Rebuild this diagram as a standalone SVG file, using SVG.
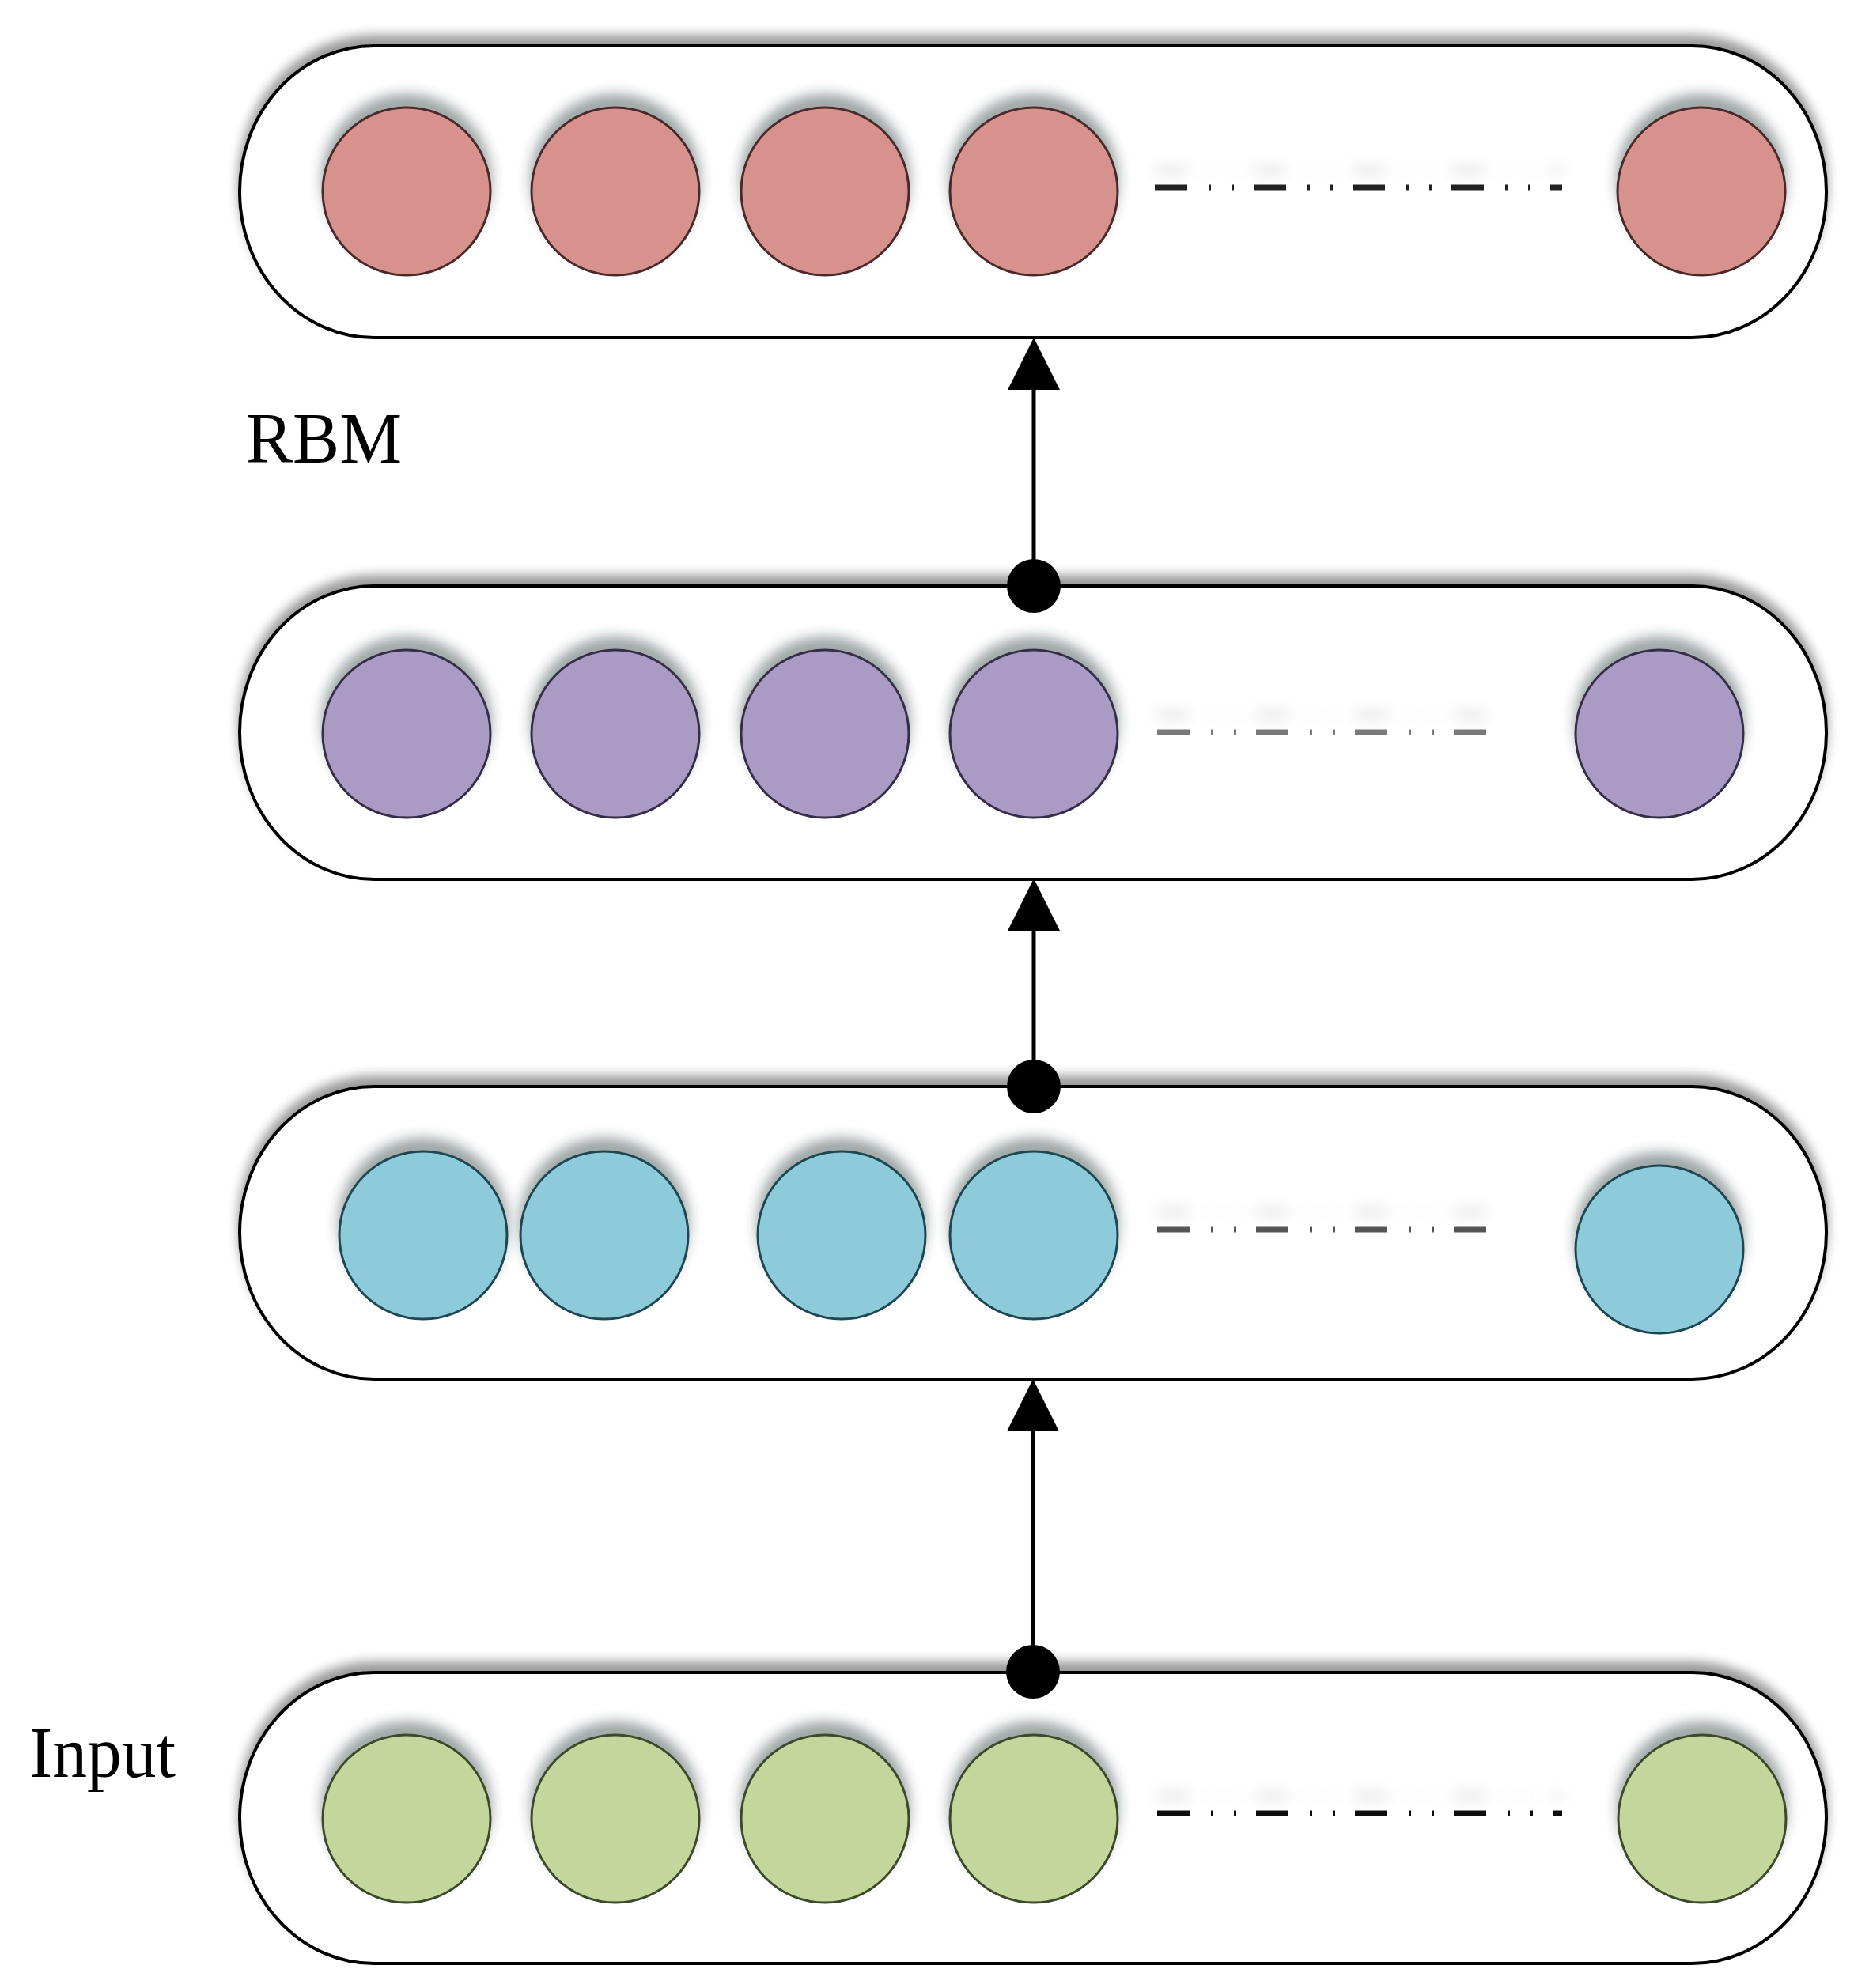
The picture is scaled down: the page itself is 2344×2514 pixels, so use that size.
<svg xmlns="http://www.w3.org/2000/svg" width="2344" height="2514" viewBox="0 0 2344 2514">
<defs>
<filter id="shUp" x="-10%" y="-30%" width="120%" height="160%">
<feGaussianBlur in="SourceAlpha" stdDeviation="7"/>
<feOffset dx="0" dy="-12" result="b"/>
<feFlood flood-color="#000" flood-opacity="0.4"/>
<feComposite in2="b" operator="in" result="s"/>
<feMerge><feMergeNode in="s"/><feMergeNode in="SourceGraphic"/></feMerge>
</filter>
<filter id="shC" x="-30%" y="-40%" width="160%" height="180%">
<feGaussianBlur in="SourceAlpha" stdDeviation="8"/>
<feOffset dx="0" dy="-16" result="b"/>
<feFlood flood-color="#2a3a3a" flood-opacity="0.45"/>
<feComposite in2="b" operator="in" result="s"/>
<feMerge><feMergeNode in="s"/><feMergeNode in="SourceGraphic"/></feMerge>
</filter>
<filter id="shD" filterUnits="userSpaceOnUse" x="0" y="0" width="2344" height="2514">
<feGaussianBlur in="SourceAlpha" stdDeviation="9"/>
<feOffset dx="0" dy="-22" result="b"/>
<feFlood flood-color="#000" flood-opacity="0.16"/>
<feComposite in2="b" operator="in" result="s"/>
<feMerge><feMergeNode in="s"/><feMergeNode in="SourceGraphic"/></feMerge>
</filter>
<marker id="tri" viewBox="0 0 66 66" markerWidth="66" markerHeight="66" refX="6" refY="33" markerUnits="userSpaceOnUse" orient="auto">
<path d="M0,0 L66,33 L0,66 z" fill="#000"/>
</marker>
<marker id="dot" viewBox="0 0 68 68" markerWidth="68" markerHeight="68" refX="34" refY="34" markerUnits="userSpaceOnUse" orient="auto">
<circle cx="34" cy="34" r="34" fill="#000"/>
</marker>
</defs>
<style>
.box{fill:#fff;stroke:#000;stroke-width:4;filter:url(#shUp)}
.n{stroke-width:3;filter:url(#shC)}
.red{fill:#D8928E;stroke:#4a2a2a}
.pur{fill:#A99BC4;stroke:#362f4a}
.cya{fill:#8DCBDB;stroke:#1f4652}
.grn{fill:#C3D69B;stroke:#3c4a2c}
.dash{stroke-width:7;stroke-dasharray:41 27 3 26 3 25;fill:none;filter:url(#shD)}
.lbl{font-family:"Liberation Serif","Times New Roman",serif;font-size:92px;fill:#000}
.conn{stroke:#000;stroke-width:5;fill:none;marker-start:url(#dot);marker-end:url(#tri)}
</style>
<rect width="2344" height="2514" fill="#fff"/>

<g id="layer-top">
<rect class="box" x="303" y="58" width="2006" height="369" rx="170" ry="184"/>
<circle class="n red" cx="514" cy="242" r="106"/>
<circle class="n red" cx="778" cy="242" r="106"/>
<circle class="n red" cx="1043" cy="242" r="106"/>
<circle class="n red" cx="1307" cy="242" r="106"/>
<line class="dash" x1="1460" y1="237" x2="1975" y2="237" stroke="#222"/>
<circle class="n red" cx="2151" cy="242" r="106"/>
</g>

<g id="layer-hidden2">
<rect class="box" x="303" y="741" width="2006" height="371" rx="170" ry="185"/>
<circle class="n pur" cx="514" cy="928" r="106"/>
<circle class="n pur" cx="778" cy="928" r="106"/>
<circle class="n pur" cx="1043" cy="928" r="106"/>
<circle class="n pur" cx="1307" cy="928" r="106"/>
<line class="dash" x1="1463" y1="926" x2="1879" y2="926" stroke="#7a7a7a"/>
<circle class="n pur" cx="2098" cy="928" r="106"/>
</g>

<g id="layer-hidden1">
<rect class="box" x="303" y="1374" width="2006" height="370" rx="170" ry="185"/>
<circle class="n cya" cx="535" cy="1562" r="106"/>
<circle class="n cya" cx="764" cy="1562" r="106"/>
<circle class="n cya" cx="1064" cy="1562" r="106"/>
<circle class="n cya" cx="1307" cy="1562" r="106"/>
<line class="dash" x1="1463" y1="1555" x2="1905" y2="1555" stroke="#555"/>
<circle class="n cya" cx="2098" cy="1580" r="106"/>
</g>

<g id="layer-input">
<rect class="box" x="303" y="2115" width="2006" height="368" rx="170" ry="184"/>
<circle class="n grn" cx="514" cy="2300" r="106"/>
<circle class="n grn" cx="778" cy="2300" r="106"/>
<circle class="n grn" cx="1043" cy="2300" r="106"/>
<circle class="n grn" cx="1307" cy="2300" r="106"/>
<line class="dash" x1="1463" y1="2293" x2="1975" y2="2293" stroke="#111"/>
<circle class="n grn" cx="2152" cy="2300" r="106"/>
</g>

<g id="label-rbm"><text class="lbl" x="311" y="585" textLength="197" lengthAdjust="spacingAndGlyphs">RBM</text></g>
<g id="label-input"><text class="lbl" x="37" y="2247" textLength="185" lengthAdjust="spacingAndGlyphs">Input</text></g>

<g id="connectors">
<line class="conn" x1="1307" y1="741" x2="1307" y2="487"/>
<line class="conn" x1="1307" y1="1374" x2="1307" y2="1171"/>
<line class="conn" x1="1306" y1="2114" x2="1306" y2="1804"/>
</g>
</svg>
